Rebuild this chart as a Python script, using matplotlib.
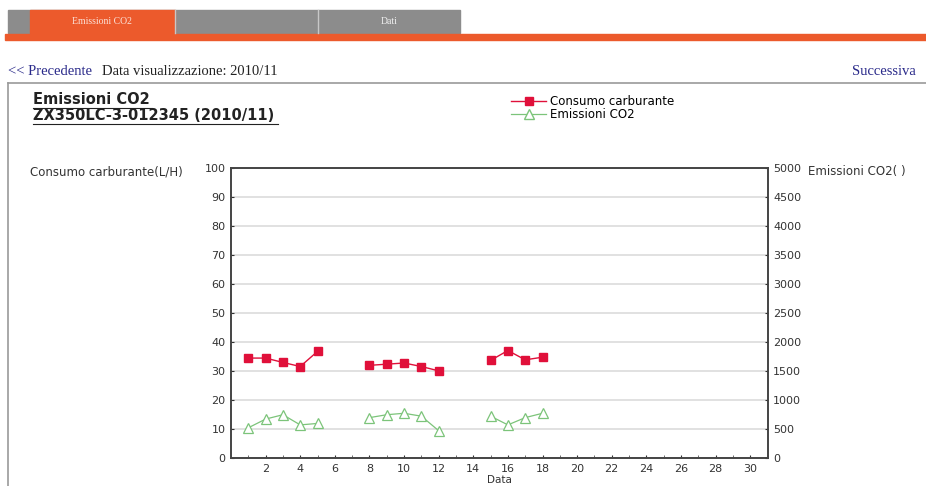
import numpy as np
import matplotlib.pyplot as plt
from matplotlib.patches import Rectangle
from matplotlib.lines import Line2D

# days of the month and daily values (NaN = no data)
days = list(range(1, 19))
consumo = [34.5, 34.5, 33.0, 31.6, 36.8, np.nan, np.nan, 32.0, 32.4, 32.8, 31.6, 30.1,
           np.nan, np.nan, 33.7, 37.1, 33.9, 34.8]
emissioni = [525, 675, 750, 575, 600, np.nan, np.nan, 700, 750, 775, 725, 475,
             np.nan, np.nan, 725, 575, 700, 775]

W, H = 926, 486
RED = '#e0103a'
GREEN = '#7cc47a'
ORANGE = '#ec5a2c'


def px(x, y):
    return x / W, 1 - y / H


fig = plt.figure(figsize=(W / 100, H / 100), dpi=100)

# --- page header (tabs, orange rule, navigation) ---
x0, y0 = px(8, 33)
fig.add_artist(Rectangle((x0, y0), 452 / W, 23 / H, transform=fig.transFigure,
                         color='#8c8c8c', zorder=0))
x0, y0 = px(30, 33)
fig.add_artist(Rectangle((x0, y0), 145 / W, 23 / H, transform=fig.transFigure,
                         color=ORANGE, zorder=1))
for xs in [175, 318]:
    fig.add_artist(Line2D([xs / W] * 2, [1 - 10 / H, 1 - 33 / H], transform=fig.transFigure,
                          color='#c8c8c8', lw=1))
x0, y0 = px(5, 40)
fig.add_artist(Rectangle((x0, y0), 921 / W, 6 / H, transform=fig.transFigure,
                         color=ORANGE, zorder=1))
fig.text(*px(102, 22), 'Emissioni CO2', color='#fbe0d6', fontsize=7,
         family='Liberation Serif', ha='center', va='center')
fig.text(*px(389, 22), 'Dati', color='#eeeeee', fontsize=7,
         family='Liberation Serif', ha='center', va='center')

fig.text(*px(8, 71), '<< Precedente', color='#2a2a8a', fontsize=10.5,
         family='Liberation Serif', va='center')
fig.text(*px(102, 71), 'Data visualizzazione: 2010/11', color='#222222', fontsize=10.5,
         family='Liberation Serif', va='center')
fig.text(*px(852, 71), 'Successiva', color='#2a2a8a', fontsize=10.5,
         family='Liberation Serif', va='center')
fig.add_artist(Line2D([8 / W, 1], [1 - 83 / H] * 2, transform=fig.transFigure,
                      color='#9a9a9a', lw=1.2))
fig.add_artist(Line2D([8 / W] * 2, [1 - 83 / H, 0], transform=fig.transFigure,
                      color='#9a9a9a', lw=1.2))

# --- chart title ---
fig.text(*px(33, 100), 'Emissioni CO2', fontsize=10.5, fontweight='bold',
         color='#222222', va='center')
fig.text(*px(33, 116), 'ZX350LC-3-012345 (2010/11)', fontsize=10.5, fontweight='bold',
         color='#222222', va='center')
fig.add_artist(Line2D([33 / W, 152 / W], [1 - 108 / H] * 2, transform=fig.transFigure,
                      color='#222222', lw=0.8))
fig.add_artist(Line2D([33 / W, 278 / W], [1 - 124 / H] * 2, transform=fig.transFigure,
                      color='#222222', lw=0.8))

# --- axes ---
ax = fig.add_axes([231 / W, 27.7 / H, 536.5 / W, 290.5 / H])
ax2 = ax.twinx()

ax.set_xlim(0, 31)
ax.set_ylim(0, 100)
ax2.set_ylim(0, 5000)
ax.set_xticks(range(2, 31, 2))
ax.set_xticks(range(1, 32), minor=True)
ax.set_yticks(range(0, 101, 10))
ax2.set_yticks(range(0, 5001, 500))
ax.yaxis.grid(True, color='#dcdcdc', lw=1.2)
ax.set_axisbelow(True)

for a in (ax, ax2):
    a.tick_params(labelsize=8, colors='#333333', length=2, direction='in', pad=4)
    a.tick_params(which='minor', length=2, direction='in', colors='#555555')
    for s in a.spines.values():
        s.set_color('#444444')
        s.set_linewidth(1.2)

ax.plot(days, consumo, color=RED, lw=1, marker='s', ms=6, mfc=RED, mec=RED, zorder=3)
ax2.plot(days, emissioni, color=GREEN, lw=0.9, marker='^', ms=7.5, mfc='white',
         mec=GREEN, mew=0.9, zorder=3)

ax.set_xlabel('Data', fontsize=7.5, color='#333333', labelpad=1)
fig.text(*px(30, 172), 'Consumo carburante(L/H)', fontsize=8.5, color='#333333', va='center')
fig.text(*px(808, 172), 'Emissioni CO2( )', fontsize=8.5, color='#333333', va='center')

# --- legend ---
h1 = Line2D([], [], color=RED, lw=1, marker='s', ms=6, mfc=RED, mec=RED)
h2 = Line2D([], [], color=GREEN, lw=0.9, marker='^', ms=6.5, mfc='white', mec=GREEN)
fig.legend([h1, h2], ['Consumo carburante', 'Emissioni CO2'], loc='upper left',
           bbox_to_anchor=px(505, 89), frameon=False, fontsize=8.5, handlelength=3.0,
           handletextpad=0.3, labelspacing=0.0, borderpad=0)

fig.savefig('out.png', dpi=100)
